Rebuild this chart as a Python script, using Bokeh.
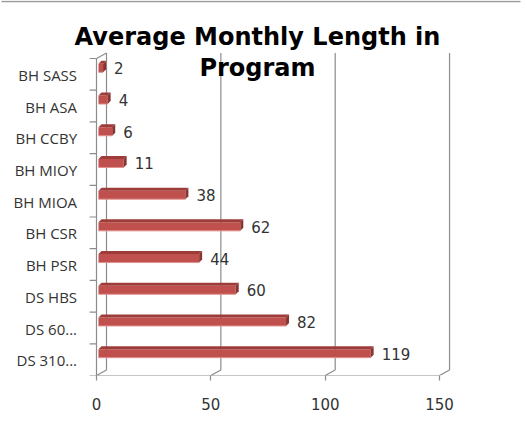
from bokeh.plotting import figure
from bokeh.models import FixedTicker, Range1d
from bokeh.core.properties import value
from bokeh.embed import file_html
from bokeh.resources import INLINE

# ---- data ----
categories = ["BH SASS", "BH ASA", "BH CCBY", "BH MIOY", "BH MIOA",
              "BH CSR", "BH PSR", "DS HBS", "DS 60...", "DS 310..."]
values = [2, 4, 6, 11, 38, 62, 44, 60, 82, 119]
x_ticks = [0, 50, 100, 150]
title_lines = ["Average Monthly Length in", "Program"]

# ---- geometry (pixel-based style constants) ----
W, H = 522, 420
ORG_X, ORG_Y = 1, 2          # where the canvas lands in the page shot
AXIS_PX = 377                # page y of the front x axis line
ZERO_PX = 97                 # page x of value 0
BOTTOM = H - (AXIS_PX - ORG_Y)
PXX = 2.287   # px per x unit
PXY = 31.7    # px per category
n = len(categories)
ypos = [n - 1 - i for i in range(n)]          # top category at top

X0 = -(ZERO_PX - ORG_X) / PXX
Y0 = -0.5
x_range = Range1d(X0, X0 + W / PXX)
y_range = Range1d(Y0, Y0 + (H - BOTTOM) / PXY)

def px_x(px):   # page px -> data x
    return X0 + (px - ORG_X) / PXX

def px_y(py):   # page px -> data y
    return Y0 + (AXIS_PX - py) / PXY

DX = 10 / PXX     # wall depth
DY = 5.5 / PXY
OX = 2 / PXX      # bar front offset
BDX = 3 / PXX     # bar depth
BDY = 3 / PXY
FB = 2 / PXY      # bar front bottom above band centre
FT = 10.5 / PXY   # bar front top above band centre

p = figure(width=W, height=H, output_backend="svg", toolbar_location=None,
           x_range=x_range, y_range=y_range,
           min_border_left=0, min_border_right=0, min_border_top=0,
           min_border_bottom=BOTTOM)
p.outline_line_color = None
p.xgrid.visible = False
p.ygrid.visible = False
p.yaxis.visible = False
p.background_fill_color = "white"
p.border_fill_color = "white"

GRID = "#8c8c8c"
lo, hi = -0.5, n - 0.5

# chart-area border remnant at the very top
p.segment(x0=[px_x(2)], y0=[px_y(3)], x1=[px_x(521)], y1=[px_y(3)],
          line_color="#9a9a9a", line_width=1.5)

# back-wall gridlines and floor diagonals
p.segment(x0=[t + DX for t in x_ticks], y0=[lo + DY] * 4,
          x1=[t + DX for t in x_ticks], y1=[hi + DY] * 4,
          line_color=GRID, line_width=1.2)
p.segment(x0=x_ticks, y0=[lo] * 4, x1=[t + DX for t in x_ticks], y1=[lo + DY] * 4,
          line_color=GRID, line_width=1.2)
# left wall front edge + top diagonal
p.segment(x0=[0, 0], y0=[lo, hi], x1=[0, DX], y1=[hi, hi + DY],
          line_color=GRID, line_width=1.2)
# front x axis line
p.segment(x0=[0], y0=[lo], x1=[x_ticks[-1]], y1=[lo], line_color=GRID, line_width=1.2)
# category boundary ticks
bounds = [k - 0.5 for k in range(n + 1)]
p.segment(x0=[-3] * len(bounds), y0=bounds, x1=[0] * len(bounds), y1=bounds,
          line_color=GRID, line_width=1.2)

# bars
left = [OX] * n
right = [v + OX for v in values]
bot = [c + FB for c in ypos]
top = [c + FT for c in ypos]
p.quad(left=left, right=right, bottom=bot, top=top,
       fill_color="#c0504d", line_color=None)
p.segment(x0=left, y0=bot, x1=right, y1=bot, line_color="#e3908d", line_width=1)
p.patches(xs=[[l, r, r + BDX, l + BDX] for l, r in zip(left, right)],
          ys=[[t, t, t + BDY, t + BDY] for t in top],
          fill_color="#9e3c39", line_color=None)
p.patches(xs=[[r, r, r + BDX, r + BDX] for r in right],
          ys=[[b, t, t + BDY, b + BDY] for b, t in zip(bot, top)],
          fill_color="#8a3432", line_color=None)

# data labels
p.text(x=[r + BDX + 8 / PXX for r in right], y=[c + 6 / PXY for c in ypos],
       text=[str(v) for v in values], text_font_size="15px",
       text_font=value("DejaVu Sans"), text_color="#333333",
       text_baseline="middle", text_align="left")

# category labels
p.text(x=[-8.5] * n, y=[c - 0.02 for c in ypos], text=categories,
       text_font_size="15px", text_font=value("Open Sans"), text_color="#333333",
       text_baseline="middle", text_align="right")

# x axis
p.xaxis.ticker = FixedTicker(ticks=x_ticks)
p.xaxis.axis_line_color = None
p.xaxis.major_tick_line_color = GRID
p.xaxis.major_tick_line_width = 1.2
p.xaxis.major_tick_in = 0
p.xaxis.major_tick_out = 5
p.xaxis.minor_tick_line_color = None
p.xaxis.major_label_text_font = "DejaVu Sans"
p.xaxis.major_label_text_font_size = "15px"
p.xaxis.major_label_text_color = "#333333"
p.xaxis.major_label_standoff = 17

# title (two lines, second overlaps the plot area as in the original)
tx = px_x(258)
baselines = [38.5, 69]
p.text(x=[tx, tx], y=[px_y(b) for b in baselines], text=title_lines,
       text_font=value("DejaVu Sans"), text_font_style="bold",
       text_font_size="24px", text_color="black",
       text_align="center", text_baseline="alphabetic")

open("out.html", "w").write(file_html(p, INLINE))
